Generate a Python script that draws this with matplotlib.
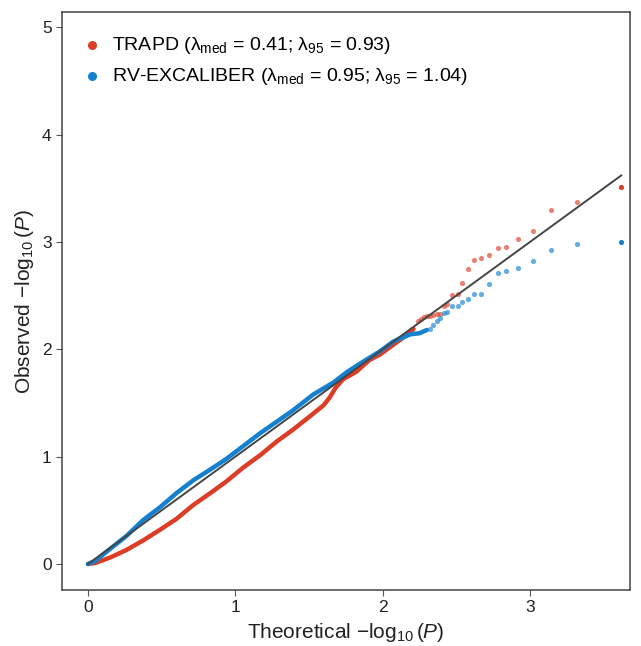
import matplotlib
matplotlib.use('Agg')
import matplotlib.pyplot as plt

plt.rcParams['font.family'] = ['Liberation Sans', 'DejaVu Sans']
plt.rcParams['mathtext.fontset'] = 'custom'
plt.rcParams['mathtext.rm'] = 'Liberation Sans'
plt.rcParams['mathtext.it'] = 'Liberation Sans:italic'

# dense part of each QQ curve
trapd_x = [0.0, 0.05, 0.15, 0.26, 0.375, 0.49, 0.60, 0.715, 0.83, 0.94, 1.055,
           1.17, 1.28, 1.39, 1.51, 1.60, 1.64, 1.68, 1.73, 1.82, 1.91, 1.98,
           2.07, 2.15, 2.21]
trapd_y = [0.0, 0.01, 0.06, 0.13, 0.22, 0.32, 0.42, 0.55, 0.66, 0.77, 0.90,
           1.015, 1.14, 1.25, 1.38, 1.48, 1.55, 1.64, 1.72, 1.79, 1.90, 1.95,
           2.04, 2.12, 2.19]
excal_x = [0.0, 0.05, 0.14, 0.26, 0.375, 0.49, 0.60, 0.715, 0.83, 0.94, 1.055,
           1.17, 1.28, 1.39, 1.53, 1.665, 1.76, 1.85, 1.98, 2.07, 2.10, 2.19,
           2.25, 2.30]
excal_y = [0.0, 0.03, 0.13, 0.26, 0.41, 0.53, 0.66, 0.78, 0.88, 0.98, 1.10,
           1.22, 1.325, 1.43, 1.58, 1.69, 1.79, 1.87, 1.98, 2.07, 2.09, 2.14,
           2.15, 2.18]

# sparse tail points
trapd_tx = [2.24, 2.26, 2.28, 2.30, 2.32, 2.34, 2.37, 2.39, 2.42, 2.44, 2.47,
            2.51, 2.54, 2.58, 2.62, 2.67, 2.72, 2.78, 2.84, 2.92, 3.02, 3.14,
            3.32, 3.62]
trapd_ty = [2.26, 2.28, 2.30, 2.31, 2.31, 2.32, 2.33, 2.33, 2.40, 2.42, 2.51,
            2.52, 2.62, 2.75, 2.83, 2.85, 2.88, 2.94, 2.95, 3.03, 3.10, 3.30,
            3.37, 3.51]
excal_tx = [2.32, 2.34, 2.37, 2.39, 2.42, 2.44, 2.47, 2.51, 2.54, 2.58, 2.62,
            2.67, 2.72, 2.78, 2.84, 2.92, 3.02, 3.14, 3.32, 3.62]
excal_ty = [2.19, 2.23, 2.26, 2.29, 2.34, 2.35, 2.40, 2.40, 2.44, 2.47, 2.52,
            2.52, 2.61, 2.71, 2.73, 2.76, 2.82, 2.93, 2.98, 3.00]

red = '#DC3D26'
blue = '#1380D0'

fig = plt.figure(figsize=(6.41, 6.46), dpi=100)
ax = fig.add_axes([0.0967, 0.0867, 0.8863, 0.8943])

# dense bands
ax.plot(trapd_x, trapd_y, color=red, lw=3.2, solid_capstyle='round',
        solid_joinstyle='round', zorder=2)
ax.plot(excal_x, excal_y, color=blue, lw=3.2, solid_capstyle='round',
        solid_joinstyle='round', zorder=3)
# tails
ax.scatter(trapd_tx[:-1], trapd_ty[:-1], s=14, color=red, alpha=0.65,
           linewidths=0, zorder=2)
ax.scatter(excal_tx[:-1], excal_ty[:-1], s=14, color=blue, alpha=0.65,
           linewidths=0, zorder=3)
ax.scatter(trapd_tx[-1:], trapd_ty[-1:], s=14, color=red, linewidths=0, zorder=2)
ax.scatter(excal_tx[-1:], excal_ty[-1:], s=14, color=blue, linewidths=0, zorder=3)

# y = x reference
xmax = max(trapd_tx)
ax.plot([0, xmax], [0, xmax], color='#454545', lw=1.4, zorder=4)

# legend handles
ax.scatter([], [], s=30, color=red,
           label='TRAPD (λ$_{\\rm med}$ = 0.41; λ$_{95}$ = 0.93)')
ax.scatter([], [], s=30, color=blue,
           label='RV-EXCALIBER (λ$_{\\rm med}$ = 0.95; λ$_{95}$ = 1.04)')
ax.legend(loc='upper left', frameon=False, fontsize=14, handlelength=0.8,
          handletextpad=0.6, borderaxespad=0.75, labelspacing=0.55,
          borderpad=0.4)

ax.set_xlim(-0.1765, 3.68)
ax.set_ylim(-0.242, 5.14)
ax.set_xticks([0, 1, 2, 3])
ax.set_yticks([0, 1, 2, 3, 4, 5])
ax.tick_params(labelsize=12.5, length=4, color='#555555', labelcolor='#222222')
for s in ax.spines.values():
    s.set_color('#444444')
    s.set_linewidth(1.1)

ax.set_xlabel(r'Theoretical $-\log_{10}(P)$', fontsize=15, color='#222222')
ax.set_ylabel(r'Observed $-\log_{10}(P)$', fontsize=15, color='#222222')

fig.savefig('out.png', dpi=100)
